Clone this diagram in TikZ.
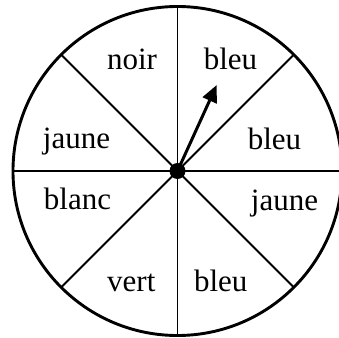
\documentclass[tikz,border=0pt]{standalone}
\usepackage{fontspec}
\setmainfont{Liberation Serif}
\usetikzlibrary{arrows.meta}
\tikzset{secteur/.style={anchor=base, inner sep=0pt, font=\fontsize{31}{31}\selectfont}}

\begin{document}
\begin{tikzpicture}[x=1pt, y=1pt, line width=1.8pt]
    \useasboundingbox (-177.5,-166) rectangle (161.5,171);
    \begin{scope}
      \clip (-177.5,-166) rectangle (161.5,171);
      \coordinate (c) at (0,0);
      \draw[line width=2.9pt] (c) circle (164.5);

      \foreach \a in {0,45,...,315}
        \draw (c) -- (\a:164.5);
    \end{scope}

    \node[secteur] (noir)   at (-45.5,101.7) {noir};
    \node[secteur] (bleuA)  at (53,101.7)    {bleu};
    \node[secteur] (bleuB)  at (97,22)       {bleu};
    \node[secteur] (jauneA) at (-101,23)     {jaune};
    \node[secteur] (blanc)  at (-100,-38.3)  {blanc};
    \node[secteur] (jauneB) at (107,-39)     {jaune};
    \node[secteur] (vert)   at (-46.2,-120.7) {vert};
    \node[secteur] (bleuC)  at (43.3,-120.7) {bleu};

    \coordinate (pointe) at (65.5:94.5);
    \draw[line width=3pt, -{Triangle[length=17pt, width=15pt]}] (c) -- (pointe);
    \fill (c) circle (8);
  \end{tikzpicture}
\end{document}
